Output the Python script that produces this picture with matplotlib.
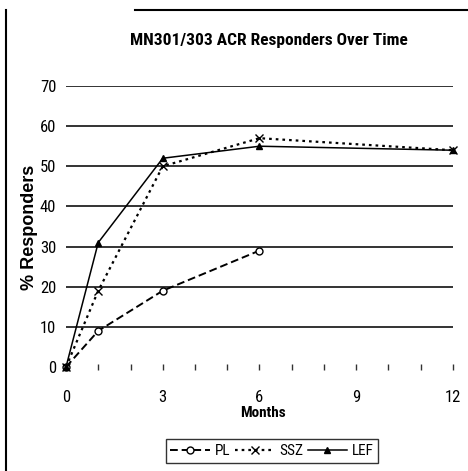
import matplotlib
matplotlib.use("Agg")
import matplotlib.pyplot as plt
from matplotlib.lines import Line2D

plt.rcParams['font.family'] = ['Roboto Condensed', 'DejaVu Sans']

months_pl = [0, 1, 3, 6]
pl = [0, 9, 19, 29]
months_ssz = [0, 1, 3, 6, 12]
ssz = [0, 19, 50, 57, 54]
months_lef = [0, 1, 3, 6, 12]
lef = [0, 31, 52, 55, 54]
yticks = [0, 10, 20, 30, 40, 50, 60, 70]
xticks = [0, 3, 6, 9, 12]

fig = plt.figure(figsize=(4.68, 4.71), dpi=100)
ax = fig.add_axes([66/468, 104/471, 387/468, 281/471])
ax.set_xlim(0, 12)
ax.set_ylim(0, 70)

for y in yticks[1:]:
    ax.axhline(y, color='#333333', lw=1.4, zorder=1)

ax.plot(months_pl, pl, color='black', ls=(0, (4, 2)), lw=1.4, marker='o', ms=5,
        mfc='white', mec='black', clip_on=False, zorder=3, label='PL')
ax.plot(months_ssz, ssz, color='black', ls=(0, (1.2, 1.8)), lw=1.6, marker='x', ms=6,
        mec='black', clip_on=False, zorder=3, label='SSZ')
ax.plot(months_lef, lef, color='black', ls='-', lw=1.1, marker='^', ms=5,
        mfc='black', mec='black', clip_on=False, zorder=4, label='LEF')

for s in ax.spines.values():
    s.set_visible(False)
ax.set_xticks(xticks)
ax.set_xticks(range(0, 13), minor=True)
ax.set_yticks(yticks)
ax.tick_params(axis='x', which='both', direction='inout', length=5, width=1, color='#333333',
               pad=14, labelsize=12)
ax.tick_params(axis='y', length=0, pad=7, labelsize=12)

fig.text(269/468, 1 - 40/471, 'MN301/303 ACR Responders Over Time', fontsize=12.5,
         fontweight='bold', ha='center', va='center')
fig.text(263/468, 1 - 413/471, 'Months', fontsize=11, fontweight='bold',
         ha='center', va='center')
fig.text(29/468, 1 - 227/471, '% Responders', fontsize=13, fontweight='bold',
         family=['Liberation Sans', 'DejaVu Sans'],
         rotation=90, ha='center', va='center')

leg = fig.legend(loc='center', bbox_to_anchor=(272/468, 1 - 451/471), ncol=3, fontsize=11,
                 frameon=True, fancybox=False, edgecolor='black', handlelength=2.6,
                 columnspacing=0.3, handletextpad=0.3, borderpad=0.3)
leg.get_frame().set_linewidth(1.0)

fig.add_artist(Line2D([6/468, 6/468], [0, 1 - 10/471], color='black', lw=1.5))
fig.add_artist(Line2D([135/468, 1], [1 - 10/471, 1 - 10/471], color='black', lw=1.5))

fig.savefig('out.png', dpi=100)
